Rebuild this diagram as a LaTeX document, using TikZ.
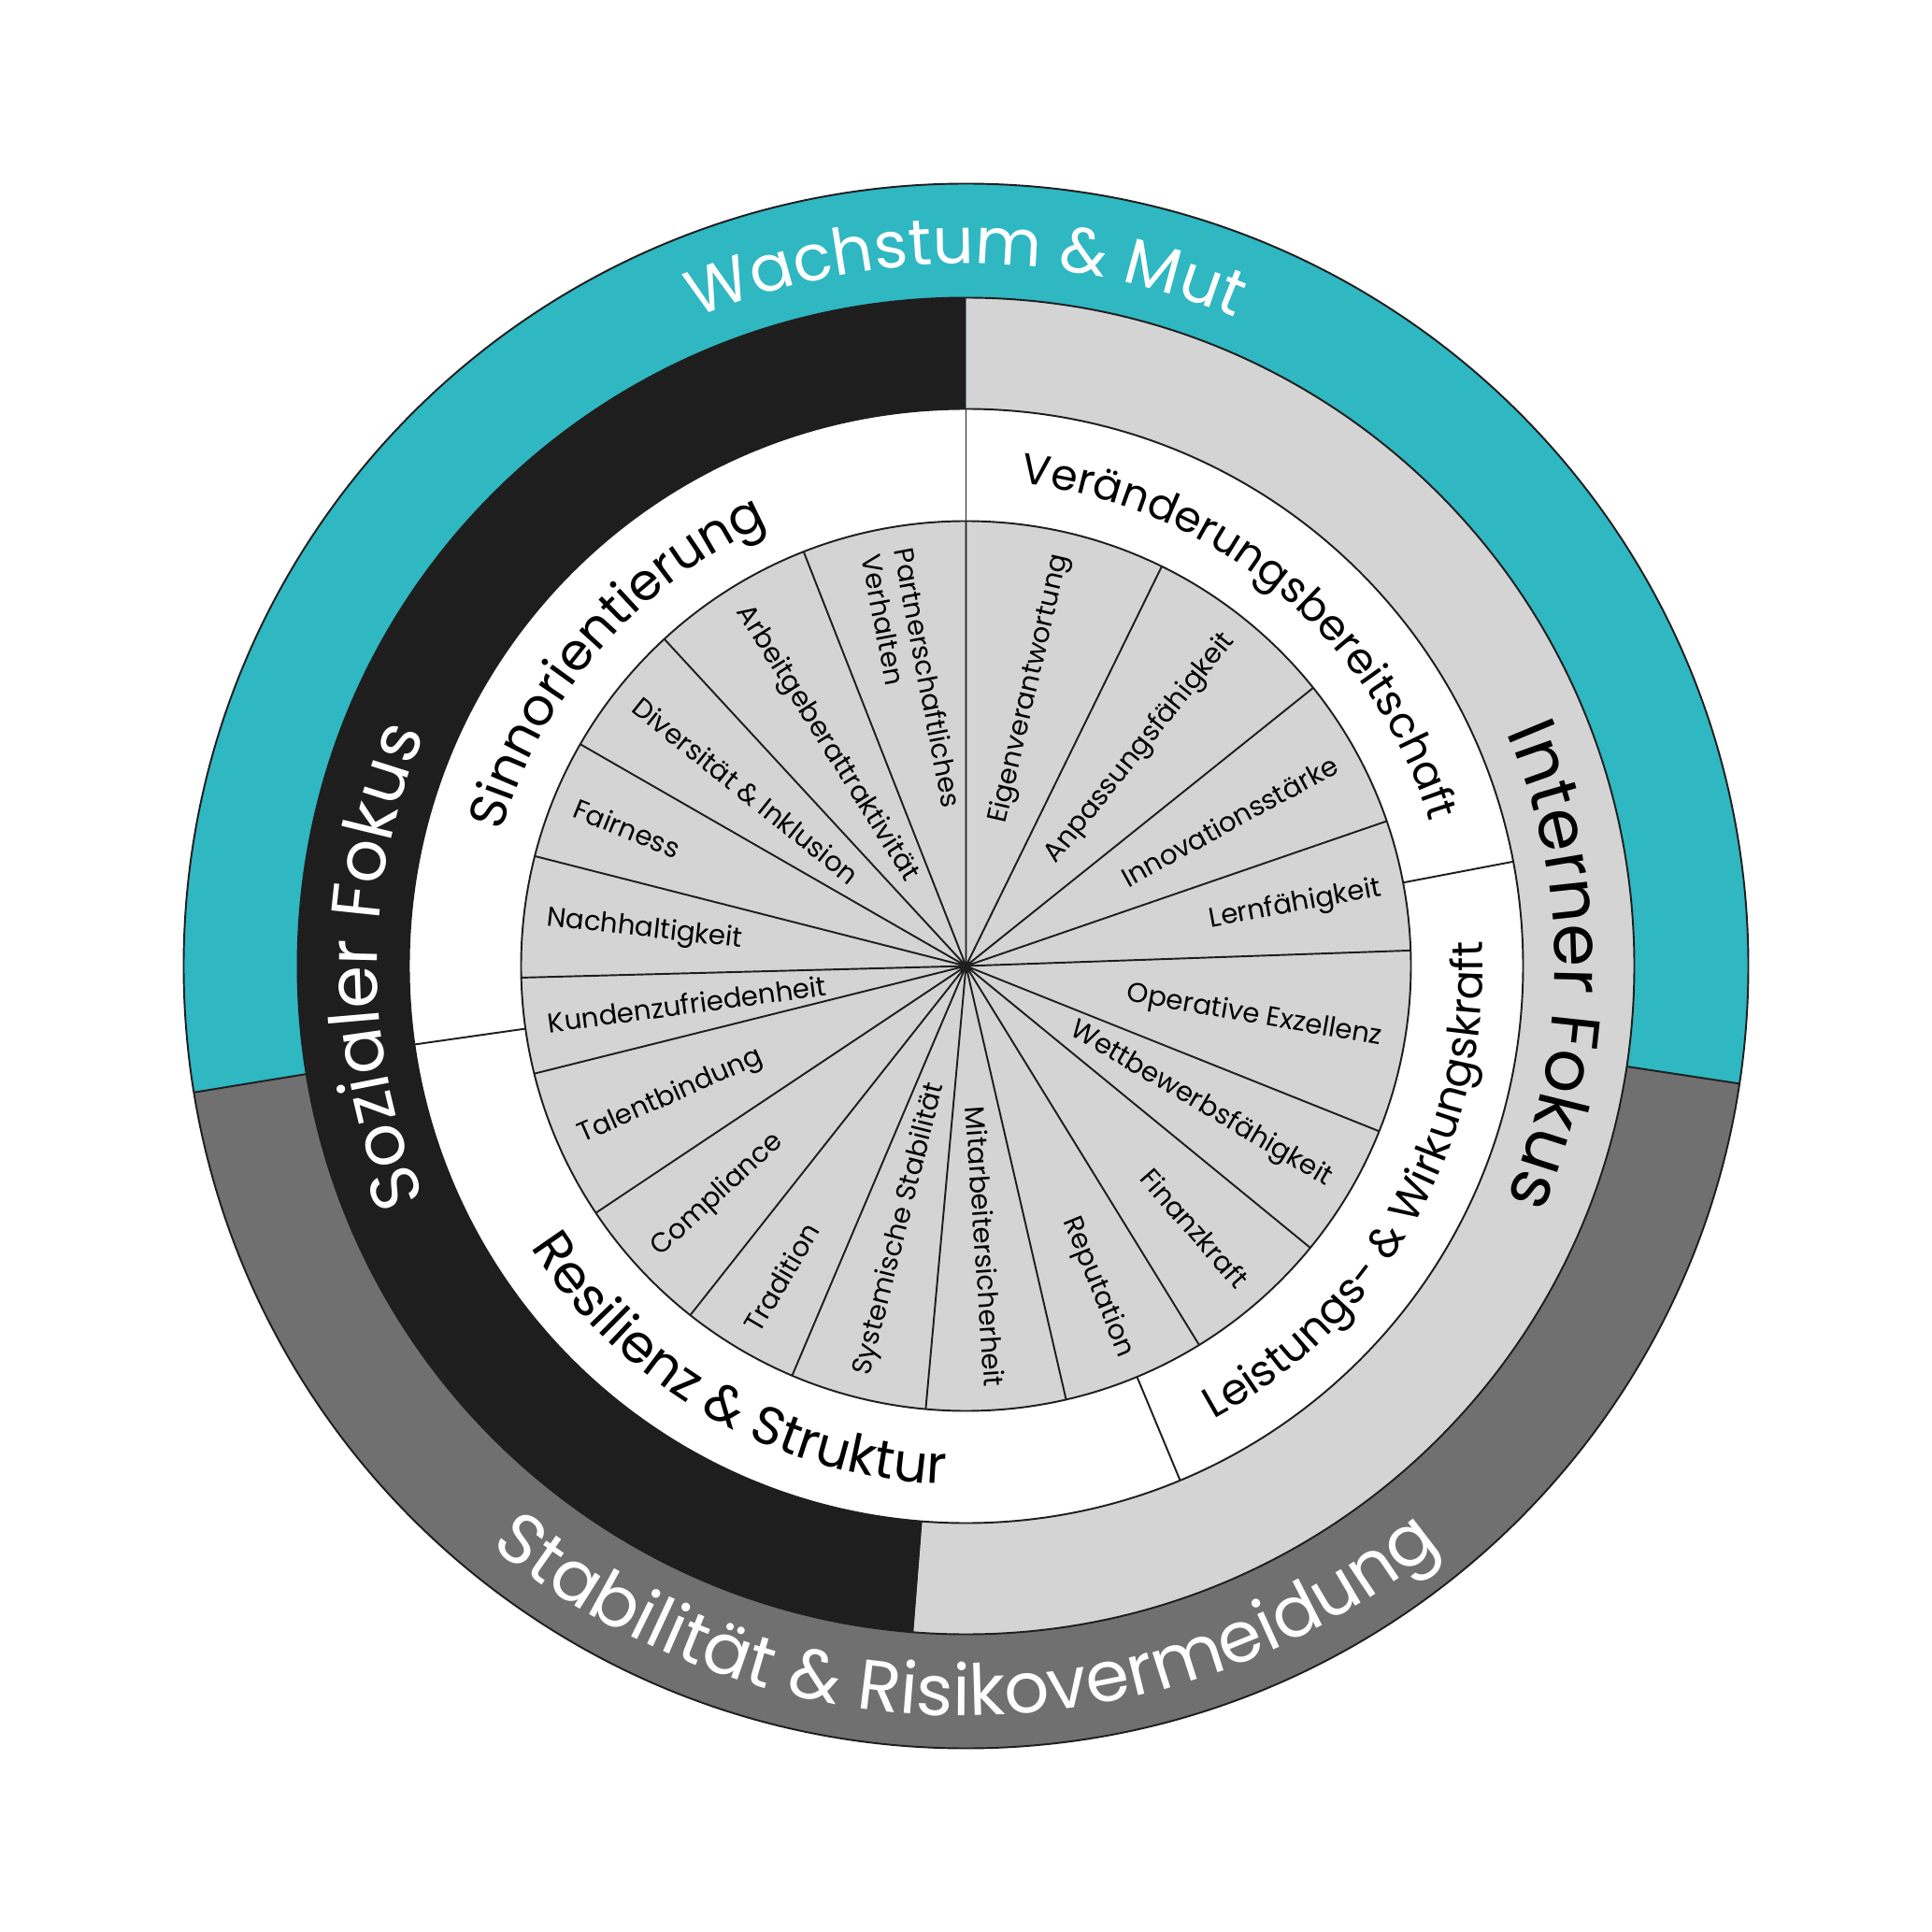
\documentclass[tikz,border=0pt]{standalone}
\usepackage{fontspec}
\setmainfont{Poppins}
\usetikzlibrary{decorations.text}

\definecolor{wachstum}{RGB}{47,183,194}
\definecolor{stabil}{RGB}{112,112,112}
\definecolor{sozial}{RGB}{30,30,30}
\definecolor{intern}{RGB}{212,212,212}
\definecolor{linecol}{RGB}{30,30,30}

\newcommand{\ringfont}{\fontsize{21}{25}\selectfont}

\begin{document}
\begin{tikzpicture}[
        rim/.style={draw=linecol, line width=0.55pt},
        itemR/.style={font=\fontsize{8.3}{10}\selectfont, anchor=east, inner sep=0pt},
        itemL/.style={font=\fontsize{8.3}{10}\selectfont, anchor=west, inner sep=0pt, align=left}
    ]
        \useasboundingbox (-10.335,-10.335) rectangle (10.335,10.335);

        % Outer ring
        \fill[wachstum] (0,0) -- (-8.65:8.37) arc[start angle=-8.65, end angle=189.3, radius=8.37] -- cycle;
        \fill[stabil] (0,0) -- (189.3:8.37) arc[start angle=189.3, end angle=351.35, radius=8.37] -- cycle;

        % Focus ring
        \fill[sozial] (0,0) -- (90:7.15) arc[start angle=90, end angle=265.5, radius=7.15] -- cycle;
        \fill[intern] (0,0) -- (265.5:7.15) arc[start angle=265.5, end angle=450, radius=7.15] -- cycle;

        % Value ring and inner wheel
        \fill[white] (0,0) circle (5.96);
        \fill[intern] (0,0) circle (4.76);

        % Outlines
        \draw[rim] (0,0) circle (8.37);
        \draw[rim] (0,0) circle (7.15);
        \draw[rim] (0,0) circle (5.96);
        \draw[rim] (0,0) circle (4.76);
        \draw[rim] (189.3:7.15) -- (189.3:8.37);
        \draw[rim] (-8.65:7.15) -- (-8.65:8.37);

        % Value ring dividers
        \draw[rim] (10.8:4.76) -- (10.8:5.96);
        \draw[rim] (90:4.76) -- (90:5.96);
        \draw[rim] (188.1:4.76) -- (188.1:5.96);
        \draw[rim] (292.6:4.76) -- (292.6:5.96);

        % Wheel spokes
        \draw[rim] (0,0) -- (90:4.76) (0,0) -- (63.9:4.76) (0,0) -- (38.7:4.76) (0,0) -- (19:4.76) (0,0) -- (2:4.76);
        \draw[rim] (0,0) -- (-21.8:4.76) (0,0) -- (-39.3:4.76) (0,0) -- (-58.4:4.76) (0,0) -- (-77:4.76) (0,0) -- (-95.2:4.76);
        \draw[rim] (0,0) -- (-113:4.76) (0,0) -- (-128.3:4.76) (0,0) -- (-146.3:4.76) (0,0) -- (-166:4.76) (0,0) -- (-178.5:4.76);
        \draw[rim] (0,0) -- (165.7:4.76) (0,0) -- (150.1:4.76) (0,0) -- (132.7:4.76) (0,0) -- (111.4:4.76);

        % Outer ring labels
        \path[decorate, decoration={text along path, text align=center,
            text={|\fontsize{19.6}{24}\selectfont\color{white}|Wachstum {\&} Mut}}]
            (150:7.51) arc[start angle=150, end angle=30, radius=7.51];
        \path[decorate, decoration={text along path, text align=center,
            text={|\fontsize{21.5}{25}\selectfont\color{white}|Stabilität {\&} Risikovermeidung}}]
            (200:8.02) arc[start angle=200, end angle=340, radius=8.02];

        % Focus ring labels
        \path[decorate, decoration={text along path, text align=center,
            text={|\ringfont\color{white}|Sozialer Fokus}}]
            (235:6.30) arc[start angle=235, end angle=125, radius=6.30];
        \path[decorate, decoration={text along path, text align=center,
            text={|\ringfont\color{black}|Interner Fokus}}]
            (55:6.30) arc[start angle=55, end angle=-55, radius=6.30];

        % Value ring labels
        \path[decorate, decoration={text along path, text align=center,
            text={|\fontsize{15.6}{18}\selectfont|Sinnorientierung}}]
            (189:5.17) arc[start angle=189, end angle=89, radius=5.17];
        \path[decorate, decoration={text along path, text align=center,
            text={|\fontsize{13}{16}\selectfont|Veränderungsbereitschaft}}]
            (100.4:5.20) arc[start angle=100.4, end angle=0.4, radius=5.20];
        \path[decorate, decoration={text along path, text align=center,
            text={|\fontsize{16.2}{19}\selectfont|Resilienz {\&} Struktur}}]
            (190.3:5.55) arc[start angle=190.3, end angle=290.3, radius=5.55];
        \path[decorate, decoration={text along path, text align=center,
            text={|\fontsize{13.2}{16}\selectfont|Leistungs- {\&} Wirkungskraft}}]
            (280.7:5.53) arc[start angle=280.7, end angle=380.7, radius=5.53];

        % Wheel items, right half
        \node[itemR, rotate=76.95] (eigen) at (76.95:4.52) {Eigenverantwortung};
        \node[itemR, rotate=51.3] (anpassung) at (51.3:4.52) {Anpassungsfähigkeit};
        \node[itemR, rotate=28.85] (innovation) at (28.85:4.52) {Innovationsstärke};
        \node[itemR, rotate=10.5] (lernen) at (10.5:4.52) {Lernfähigkeit};
        \node[itemR, rotate=-9.9] (exzellenz) at (-9.9:4.52) {Operative Exzellenz};
        \node[itemR, rotate=-30.55] (wettbewerb) at (-30.55:4.52) {Wettbewerbsfähigkeit};
        \node[itemR, rotate=-48.85] (finanz) at (-48.85:4.52) {Finanzkraft};
        \node[itemR, rotate=-67.7] (reputation) at (-67.7:4.52) {Reputation};
        \node[itemR, rotate=-86.1] (sicherheit) at (-86.1:4.52) {Mitarbeitersicherheit};

        % Wheel items, left half
        \node[itemL, rotate=75.9] (stabilitaet) at (-104.1:4.52) {Systemische Stabilität};
        \node[itemL, rotate=59.35] (tradition) at (-120.65:4.52) {Tradition};
        \node[itemL, rotate=42.7] (compliance) at (-137.3:4.52) {Compliance};
        \node[itemL, rotate=23.85] (talent) at (-156.15:4.52) {Talentbindung};
        \node[itemL, rotate=7.75] (kunden) at (-172.25:4.52) {Kundenzufriedenheit};
        \node[itemL, rotate=-6.4] (nachhaltig) at (173.6:4.52) {Nachhaltigkeit};
        \node[itemL, rotate=-22.1] (fairness) at (157.9:4.52) {Fairness};
        \node[itemL, rotate=-38.6] (diversitaet) at (141.4:4.52) {Diversität \& Inklusion};
        \node[itemL, rotate=-57.95] (arbeitgeber) at (122.05:4.52) {Arbeitgeberattraktivität};
        \node[itemL, rotate=-79.3] (partner) at (100.7:4.52) {Partnerschaftliches\\Verhalten};

    \end{tikzpicture}
\end{document}
